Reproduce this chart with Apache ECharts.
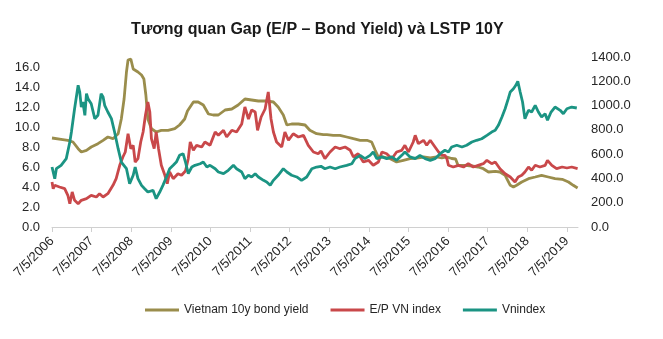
<!DOCTYPE html>
<html>
<head>
<meta charset="utf-8">
<script src="https://cdn.jsdelivr.net/npm/echarts@6/dist/echarts.min.js"></script>
<style>html,body{margin:0;padding:0;background:#fff}#c{width:663px;height:339px}</style>
</head>
<body>
<div id="c"></div>
<script>
// x-axis tick labels (one per year, 7/5/YYYY)
const tickYears = [2006,2007,2008,2009,2010,2011,2012,2013,2014,2015,2016,2017,2018,2019];
const startYear = 2006.51; // 7/5/2006 as decimal year
const endYear = 2019.79;

const leftTicks = [0,2,4,6,8,10,12,14,16];
const rightTicks = [0,200,400,600,800,1000,1200,1400];

// Vietnam 10y bond yield (left axis)
const bondDates = [2006.51,2006.74,2006.91,2007.04,2007.17,2007.25,2007.38,2007.50,2007.67,2007.80,2007.92,2008.05,2008.18,2008.26,2008.33,2008.39,2008.43,2008.50,2008.56,2008.61,2008.68,2008.77,2008.83,2008.88,2008.93,2009.02,2009.14,2009.27,2009.44,2009.61,2009.73,2009.86,2009.93,2010.08,2010.20,2010.33,2010.46,2010.58,2010.71,2010.88,2011.05,2011.21,2011.38,2011.55,2011.72,2011.93,2012.10,2012.22,2012.35,2012.44,2012.56,2012.73,2012.90,2013.02,2013.19,2013.36,2013.45,2013.61,2013.78,2013.95,2014.12,2014.29,2014.46,2014.58,2014.67,2014.75,2014.88,2015.05,2015.21,2015.38,2015.55,2015.72,2015.89,2016.06,2016.22,2016.35,2016.48,2016.60,2016.70,2016.76,2016.81,2016.94,2017.11,2017.27,2017.40,2017.53,2017.70,2017.82,2017.95,2018.08,2018.16,2018.24,2018.37,2018.54,2018.71,2018.87,2019.04,2019.21,2019.39,2019.55,2019.67,2019.78];
const bondValues = [8.9,8.77,8.67,8.5,7.83,7.5,7.67,8.0,8.33,8.67,9.0,8.83,9.33,10.8,12.8,15.5,16.7,16.8,15.8,16.0,15.5,15.2,14.8,13.2,10.8,9.83,9.5,9.67,9.67,9.83,10.2,10.8,11.6,12.5,12.5,12.2,11.3,11.2,11.2,11.7,11.8,12.2,12.8,12.7,12.6,12.6,12.5,12.0,11.2,10.2,10.3,10.3,10.2,9.67,9.33,9.23,9.23,9.17,9.17,9.0,8.83,8.67,8.67,8.5,7.67,7.0,7.0,6.83,6.5,6.67,6.83,6.9,7.0,6.9,7.0,6.9,7.0,6.85,6.8,6.17,6.17,6.17,6.1,6.0,5.83,5.5,5.57,5.5,5.17,4.17,4.0,4.17,4.5,4.83,5.0,5.17,5.0,4.83,4.77,4.5,4.17,3.9];

// E/P VN index (left axis)
const epDates = [2006.51,2006.54,2006.58,2006.70,2006.83,2006.91,2006.96,2007.02,2007.08,2007.17,2007.25,2007.38,2007.50,2007.63,2007.71,2007.80,2007.92,2008.05,2008.13,2008.22,2008.30,2008.36,2008.43,2008.50,2008.56,2008.61,2008.68,2008.75,2008.81,2008.87,2008.93,2008.98,2009.02,2009.09,2009.14,2009.20,2009.27,2009.36,2009.42,2009.48,2009.57,2009.69,2009.78,2009.88,2009.95,2010.00,2010.08,2010.16,2010.29,2010.37,2010.50,2010.63,2010.71,2010.84,2010.92,2011.05,2011.17,2011.30,2011.38,2011.47,2011.55,2011.64,2011.70,2011.79,2011.89,2011.97,2012.04,2012.10,2012.18,2012.31,2012.39,2012.48,2012.60,2012.73,2012.86,2012.98,2013.11,2013.23,2013.30,2013.40,2013.53,2013.66,2013.78,2013.91,2014.04,2014.12,2014.24,2014.37,2014.50,2014.62,2014.75,2014.84,2014.96,2015.09,2015.21,2015.34,2015.42,2015.51,2015.63,2015.68,2015.76,2015.89,2015.97,2016.06,2016.18,2016.27,2016.35,2016.43,2016.48,2016.52,2016.64,2016.77,2016.90,2017.02,2017.15,2017.27,2017.40,2017.49,2017.61,2017.70,2017.82,2017.95,2018.08,2018.20,2018.28,2018.37,2018.45,2018.54,2018.62,2018.71,2018.83,2018.96,2019.02,2019.13,2019.25,2019.39,2019.51,2019.63,2019.78];
const epValues = [4.5,3.83,4.17,4.0,3.83,3.17,2.33,3.5,2.67,2.33,2.67,2.83,3.17,3.0,3.33,3.0,3.33,4.17,4.83,6.17,7.0,7.5,9.33,7.83,8.17,6.5,6.83,8.5,9.5,11.2,12.5,11.5,8.83,7.83,9.5,7.83,6.17,5.17,4.33,5.5,4.83,5.33,5.17,5.6,6.83,8.5,7.67,8.17,8.0,8.5,8.17,9.5,9.17,9.67,9.0,9.67,9.5,10.3,12.0,10.8,11.7,11.5,9.67,11.0,11.8,13.5,10.8,9.5,8.5,8.0,9.5,8.67,9.33,9.0,9.17,8.17,7.5,7.33,7.6,6.83,7.5,8.0,7.83,8.0,7.67,7.0,7.33,6.5,6.67,6.17,6.5,7.5,7.33,6.83,7.5,7.67,8.17,7.5,8.5,9.17,8.33,8.67,8.17,8.67,8.0,7.5,7.17,7.17,6.83,6.17,6.0,6.17,6.0,6.33,6.0,6.17,6.33,6.67,6.33,6.5,5.83,5.33,5.0,4.5,5.0,5.17,5.5,6.0,5.67,6.17,6.0,6.17,6.67,6.17,5.83,6.0,5.9,6.0,5.83];

// Vnindex (right axis)
const vniDates = [2006.51,2006.58,2006.62,2006.74,2006.87,2006.96,2007.00,2007.08,2007.17,2007.21,2007.25,2007.29,2007.34,2007.38,2007.42,2007.50,2007.59,2007.67,2007.75,2007.80,2007.84,2007.92,2008.01,2008.09,2008.18,2008.26,2008.39,2008.47,2008.56,2008.61,2008.68,2008.77,2008.85,2008.93,2009.06,2009.14,2009.23,2009.31,2009.40,2009.48,2009.57,2009.65,2009.73,2009.82,2009.88,2009.95,2010.04,2010.12,2010.25,2010.33,2010.42,2010.50,2010.63,2010.71,2010.84,2010.96,2011.09,2011.17,2011.30,2011.38,2011.47,2011.55,2011.64,2011.72,2011.85,2011.93,2012.02,2012.10,2012.22,2012.35,2012.44,2012.56,2012.69,2012.81,2012.94,2013.07,2013.19,2013.30,2013.40,2013.53,2013.66,2013.78,2013.95,2014.08,2014.16,2014.29,2014.41,2014.54,2014.62,2014.71,2014.84,2014.96,2015.09,2015.21,2015.34,2015.42,2015.55,2015.68,2015.80,2015.93,2016.06,2016.18,2016.31,2016.43,2016.52,2016.60,2016.73,2016.86,2016.98,2017.11,2017.23,2017.36,2017.49,2017.61,2017.70,2017.78,2017.87,2017.95,2018.03,2018.08,2018.16,2018.22,2018.27,2018.33,2018.39,2018.45,2018.54,2018.62,2018.71,2018.79,2018.87,2018.96,2019.02,2019.11,2019.21,2019.34,2019.42,2019.51,2019.63,2019.76];
const vniValues = [494,398,480,508,563,700,782,974,1167,1112,988,1029,920,1098,1057,1015,892,920,1098,1071,1002,947,892,782,645,535,480,357,426,494,398,343,315,288,302,233,288,343,412,480,508,535,590,604,535,439,494,508,521,535,494,508,480,453,439,467,508,480,453,398,426,412,439,412,384,371,343,384,426,480,453,426,412,384,412,480,494,500,480,494,480,494,508,521,563,590,563,590,618,563,577,563,577,549,590,618,577,563,590,563,549,563,604,632,618,659,673,659,673,700,714,727,755,782,796,837,906,974,1057,1112,1139,1167,1200,1112,1029,892,961,947,1002,947,906,933,879,947,988,961,933,974,988,980];

const colBond = '#9A8D4C', colEP = '#C9484A', colVni = '#1B9483';

function zip(dates, vals){ return dates.map((d,i)=>[d - startYear, vals[i]]); }

const font = 'Liberation Sans, Arial, sans-serif';
const chart = echarts.init(document.getElementById('c'));
chart.setOption({
  animation: false,
  backgroundColor: '#ffffff',
  title: {
    text: 'Tương quan Gap (E/P – Bond Yield) và LSTP 10Y',
    left: 126, top: 17,
    textStyle: {fontFamily: font, fontSize: 16, fontWeight: 'bold', color: '#1a1a1a'}
  },
  legend: {
    top: 299, left: 140,
    itemWidth: 34, itemHeight: 3, itemGap: 22,
    icon: 'rect',
    textStyle: {fontFamily: font, fontSize: 12, color: '#262626'},
    data: ['Vietnam 10y bond yield','E/P VN index','Vnindex']
  },
  grid: {left: 52, right: 85, top: 57, bottom: 112, containLabel: false},
  xAxis: {
    type: 'value', min: 0, max: endYear - startYear, interval: 1,
    splitLine: {show: false},
    axisLine: {show: true, lineStyle: {color: '#d0d0d0', width: 1}},
    axisTick: {show: true, length: 5, lineStyle: {color: '#d0d0d0'}, customValues: tickYears.map(y=>y-2006)},
    axisLabel: {
      rotate: 45, fontFamily: font, fontSize: 13, color: '#262626', margin: 12,
      customValues: tickYears.map(y=>y-2006),
      formatter: v => '7/5/' + (2006 + Math.round(v))
    }
  },
  yAxis: [
    {
      type: 'value', min: 0, max: 17, interval: 2,
      splitLine: {show: false}, axisLine: {show: false}, axisTick: {show: false},
      axisLabel: {fontFamily: font, fontSize: 13, color: '#262626', margin: 12,
        customValues: leftTicks, formatter: v => v.toFixed(1)}
    },
    {
      type: 'value', min: 0, max: 1400, interval: 200, position: 'right',
      splitLine: {show: false}, axisLine: {show: false}, axisTick: {show: false},
      axisLabel: {fontFamily: font, fontSize: 13, color: '#262626', margin: 13,
        customValues: rightTicks, formatter: v => v.toFixed(1)}
    }
  ],
  series: [
    {name: 'Vietnam 10y bond yield', type: 'line', yAxisIndex: 0, data: zip(bondDates, bondValues),
     showSymbol: false, symbol: 'none', lineStyle: {color: colBond, width: 2.8}, itemStyle: {color: colBond}},
    {name: 'E/P VN index', type: 'line', yAxisIndex: 0, data: zip(epDates, epValues),
     showSymbol: false, symbol: 'none', lineStyle: {color: colEP, width: 2.8}, itemStyle: {color: colEP}},
    {name: 'Vnindex', type: 'line', yAxisIndex: 1, data: zip(vniDates, vniValues),
     showSymbol: false, symbol: 'none', lineStyle: {color: colVni, width: 2.8}, itemStyle: {color: colVni}}
  ]
});
</script>
</body>
</html>
